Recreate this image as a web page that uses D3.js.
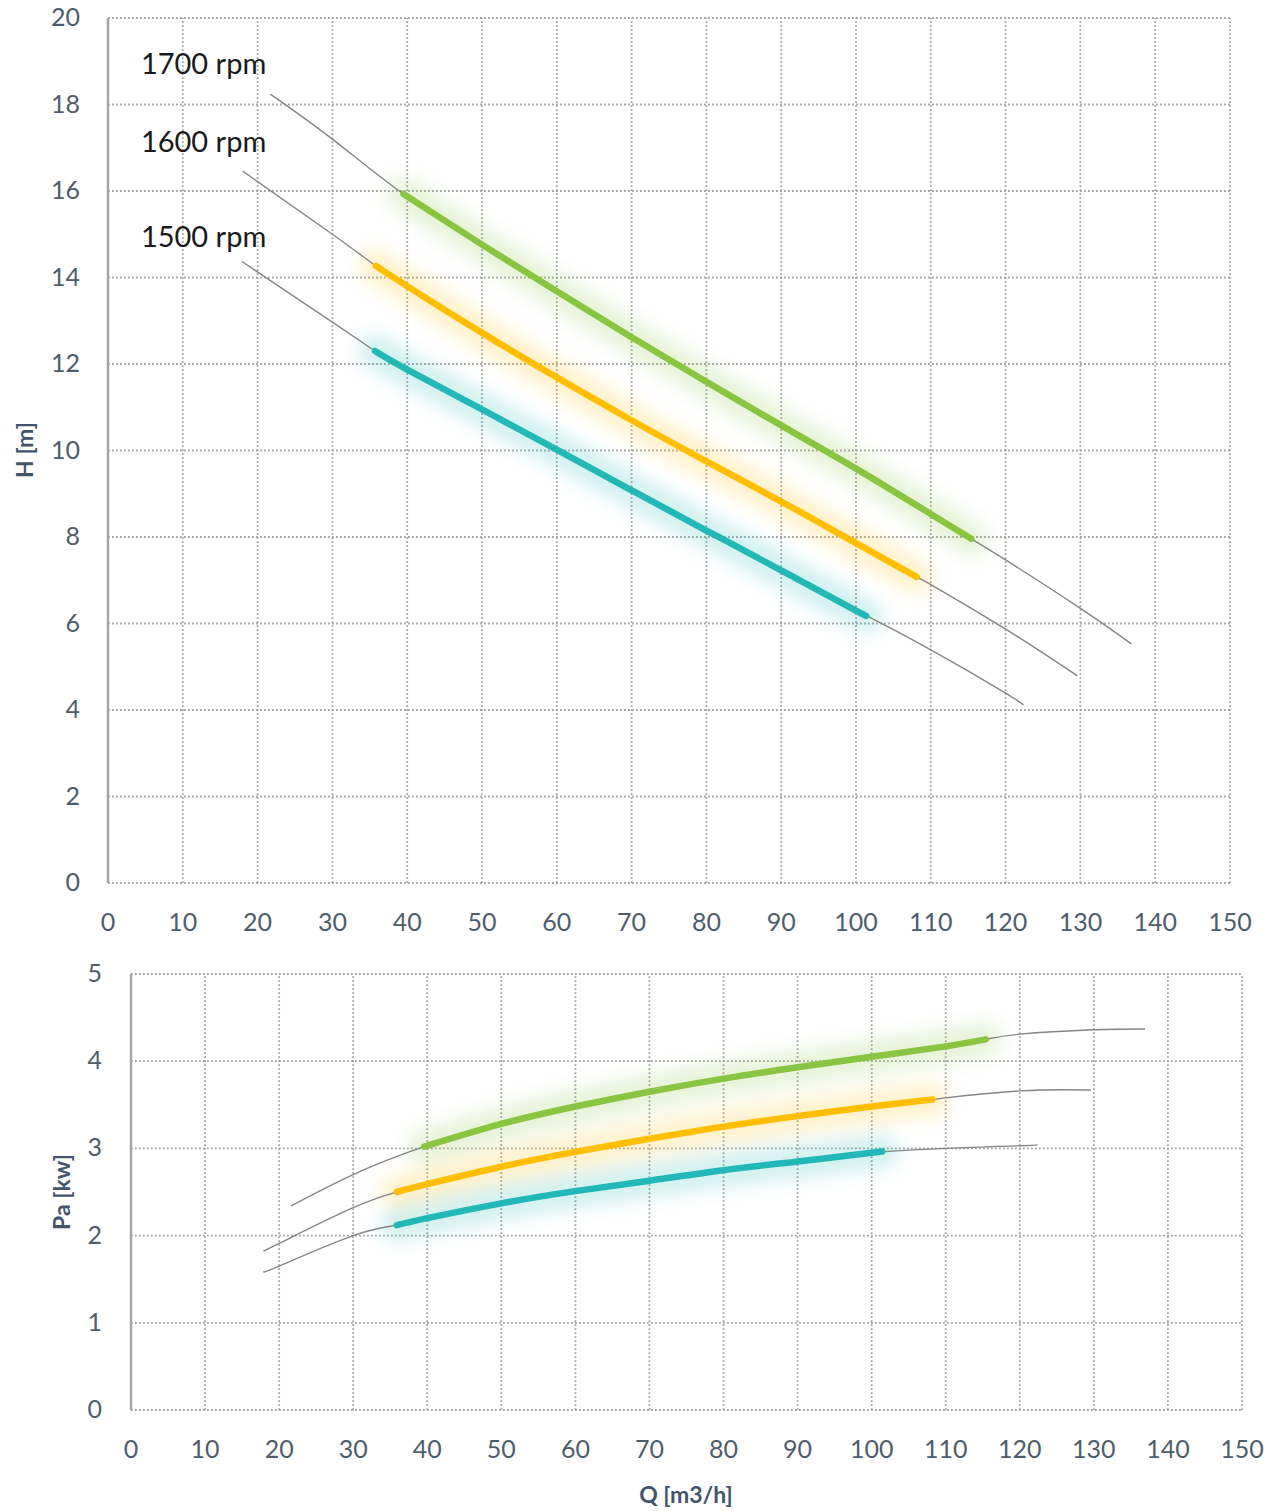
<!DOCTYPE html>
<meta charset="utf-8">
<html>
<head>
    <script src="https://d3js.org/d3.v7.min.js"></script>
    <style>
        body { margin: 0; background: #fff; }
        text { font-family: Lato, "Open Sans", sans-serif; }
    </style>
</head>
<body>
<script>
// speeds and curve colours
var speeds = ["1700 rpm", "1600 rpm", "1500 rpm"];
var colors = ["#88c540", "#ffbf00", "#22b8b5"];

// head curves [Q, H]
var head1700 = [[21.7,18.24],[30,17.2],[39.5,15.93],[50,14.76],[60,13.68],[70,12.62],[80,11.59],[90,10.58],[100,9.58],[110,8.53],[115.4,7.96],[120,7.47],[130,6.35],[136.8,5.53]];
var head1600 = [[18.0,16.46],[30,15.0],[35.8,14.27],[40,13.80],[50,12.72],[60,11.69],[70,10.70],[80,9.75],[90,8.82],[100,7.86],[108.1,7.08],[110,6.90],[120,5.87],[129.6,4.79]];
var head1500 = [[17.9,14.37],[30,12.97],[35.7,12.3],[40,11.87],[50,10.95],[60,10.02],[70,9.08],[80,8.15],[90,7.23],[100,6.30],[100.9,6.22],[110,5.39],[120,4.39],[122.4,4.12]];

// power curves [Q, Pa]
var power1700 = [[21.6,2.34],[30,2.70],[39.6,3.02],[50,3.28],[60,3.48],[70,3.65],[80,3.80],[90,3.93],[100,4.05],[110,4.17],[115.4,4.25],[120,4.31],[130,4.36],[136.9,4.37]];
var power1600 = [[18.0,1.83],[20,1.91],[30,2.32],[35.9,2.50],[40,2.59],[50,2.79],[60,2.96],[70,3.11],[80,3.25],[90,3.37],[100,3.48],[108.2,3.56],[110,3.58],[120,3.66],[129.6,3.67]];
var power1500 = [[18.0,1.59],[20,1.65],[30,2.00],[35.9,2.12],[40,2.20],[50,2.37],[60,2.51],[70,2.63],[80,2.75],[90,2.85],[100,2.95],[101,2.96],[110,3.00],[120,3.03],[122.4,3.04]];

// recommended (thick) ranges of Q
var range1700 = [39.5, 115.4];
var range1600 = [35.8, 108.2];
var range1500 = [35.7, 101];

var qTicks = d3.range(0, 151, 10);
var hTicks = d3.range(0, 21, 2);
var pTicks = d3.range(0, 6, 1);

var width = 1278, height = 1511;
var svg = d3.select("body").append("svg")
    .attr("width", width)
    .attr("height", height);

var defs = svg.append("defs");
defs.append("filter")
    .attr("id", "glow")
    .attr("x", "-30%").attr("y", "-60%")
    .attr("width", "160%").attr("height", "220%")
    .append("feGaussianBlur")
    .attr("stdDeviation", 9);

var gridColor = "#a3a3a3", labelColor = "#4f5d6b";

function drawChart(opt) {
    var x = d3.scaleLinear().domain([0, 150]).range(opt.xRange);
    var y = d3.scaleLinear().domain(opt.yDomain).range(opt.yRange);
    var g = svg.append("g");

    // grid
    g.append("g").selectAll("line")
        .data(opt.yTicks)
        .join("line")
        .attr("x1", x(0)).attr("x2", x(150))
        .attr("y1", d => y(d)).attr("y2", d => y(d))
        .attr("stroke", gridColor)
        .attr("stroke-width", 1.8)
        .attr("stroke-dasharray", "1.8,2.2");
    g.append("g").selectAll("line")
        .data(qTicks.filter(d => d > 0))
        .join("line")
        .attr("x1", d => x(d)).attr("x2", d => x(d))
        .attr("y1", y(opt.yDomain[0])).attr("y2", y(opt.yDomain[1]))
        .attr("stroke", gridColor)
        .attr("stroke-width", 1.8)
        .attr("stroke-dasharray", "1.8,2.2");
    g.append("line")
        .attr("x1", x(0)).attr("x2", x(0))
        .attr("y1", y(opt.yDomain[0])).attr("y2", y(opt.yDomain[1]))
        .attr("stroke", "#a6a6a6")
        .attr("stroke-width", 2.5);

    // tick labels
    g.append("g").selectAll("text")
        .data(opt.yTicks)
        .join("text")
        .attr("x", opt.yLabelX)
        .attr("y", d => y(d) + 8)
        .attr("text-anchor", "end")
        .attr("fill", labelColor)
        .style("font-size", "25px")
        .text(d => d);
    g.append("g").selectAll("text")
        .data(qTicks)
        .join("text")
        .attr("x", d => x(d))
        .attr("y", opt.xLabelY)
        .attr("text-anchor", "middle")
        .attr("fill", labelColor)
        .style("font-size", "25px")
        .text(d => d);

    // axis title
    g.append("text")
        .attr("transform", "translate(" + opt.titleX + "," + opt.titleY + ") rotate(-90)")
        .attr("text-anchor", "middle")
        .attr("fill", "#44546a")
        .style("font-size", "23px")
        .style("font-weight", "bold")
        .text(opt.title);

    var line = d3.line()
        .x(d => x(d[0]))
        .y(d => y(d[1]))
        .curve(d3.curveNatural);

    var thickParts = opt.series.map(function(s, i) {
        return s.filter(d => d[0] >= opt.ranges[i][0] - 0.01 && d[0] <= opt.ranges[i][1] + 0.01);
    });

    // soft halo behind the recommended range
    thickParts.forEach(function(t, i) {
        g.append("path")
            .datum(t)
            .attr("d", line)
            .attr("fill", "none")
            .attr("stroke", colors[i])
            .attr("stroke-width", 34)
            .attr("stroke-linecap", "round")
            .attr("opacity", 0.2)
            .attr("filter", "url(#glow)");
    });
    opt.series.forEach(function(s) {
        g.append("path")
            .datum(s)
            .attr("d", line)
            .attr("fill", "none")
            .attr("stroke", "#858585")
            .attr("stroke-width", 1.4);
    });
    thickParts.forEach(function(t, i) {
        g.append("path")
            .datum(t)
            .attr("d", line)
            .attr("fill", "none")
            .attr("stroke", colors[i])
            .attr("stroke-width", 6.5)
            .attr("stroke-linecap", "round");
    });
    return {x: x, y: y, g: g};
}

var headChart = drawChart({
    xRange: [108, 1230], yDomain: [0, 20], yRange: [883, 18],
    yTicks: hTicks, yLabelX: 80, xLabelY: 931,
    title: "H [m]", titleX: 33, titleY: 450,
    series: [head1700, head1600, head1500],
    ranges: [range1700, range1600, range1500]
});

// speed labels
var labelPos = [[4.4, 18.7], [4.4, 16.9], [4.4, 14.7]];
headChart.g.append("g").selectAll("text")
    .data(speeds)
    .join("text")
    .attr("x", (d, i) => headChart.x(labelPos[i][0]))
    .attr("y", (d, i) => headChart.y(labelPos[i][1]))
    .attr("fill", "#1a1a1a")
    .style("font-size", "29px")
    .text(d => d);

var powerChart = drawChart({
    xRange: [131, 1242], yDomain: [0, 5], yRange: [1410, 974],
    yTicks: pTicks, yLabelX: 102, xLabelY: 1458,
    title: "Pa [kw]", titleX: 70, titleY: 1192,
    series: [power1700, power1600, power1500],
    ranges: [range1700, range1600, range1500]
});

powerChart.g.append("text")
    .attr("x", 686)
    .attr("y", 1503)
    .attr("text-anchor", "middle")
    .attr("fill", "#44546a")
    .style("font-size", "23px")
    .style("font-weight", "bold")
    .text("Q [m3/h]");
</script>
</body>
</html>
